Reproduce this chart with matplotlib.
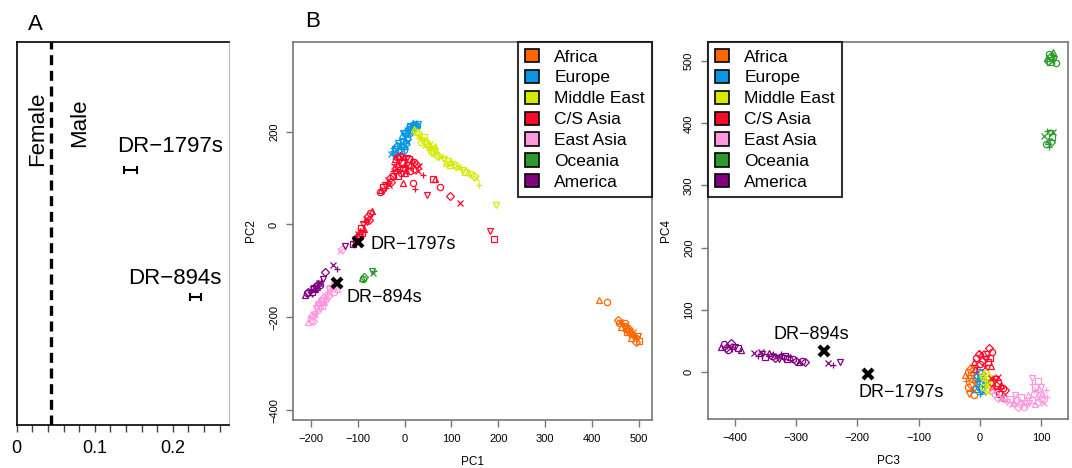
import matplotlib.pyplot as plt
from matplotlib.patches import Patch

plt.rcParams['font.family'] = ['Liberation Sans', 'DejaVu Sans']

# ---- panel A: sex determination ----
samples = ['DR\u22121797s', 'DR\u2212894s']
ratio = [0.146, 0.229]
ratio_err = [0.008, 0.007]
sample_y = [2, 1]
threshold = 0.044

# ---- panel B: PCA ----
regions = ['Africa', 'Europe', 'Middle East', 'C/S Asia', 'East Asia', 'Oceania', 'America']
colors = ['#FF6600', '#0A96E0', '#D6EA00', '#FF0A2A', '#FF99DD', '#2E9A2E', '#800080']

pc12 = {
    'Africa': [(416, -163), (431, -168), (455, -205), (460, -210), (465, -214), (468, -218),
               (472, -222), (475, -226), (478, -230), (482, -234), (485, -238), (490, -242),
               (495, -246), (500, -250), (462, -220), (470, -212), (480, -225), (488, -232),
               (492, -238), (498, -240), (474, -232), (484, -245), (458, -212), (494, -252)],
    'Europe': [(-5, 192), (0, 196), (3, 200), (6, 203), (8, 198), (10, 206), (12, 210), (15, 213),
               (18, 215), (20, 212), (22, 217), (25, 218), (28, 216), (14, 204), (5, 194), (17, 208),
               (24, 211), (9, 201), (1, 190), (-3, 197), (11, 213), (19, 219), (27, 213), (13, 199),
               (-28, 152), (-25, 158), (-22, 150), (-20, 162), (-18, 155), (-15, 168), (-12, 160),
               (-10, 172), (-8, 165), (-5, 178), (-3, 170), (0, 182), (3, 175), (5, 184), (-20, 148),
               (-25, 165), (-14, 175), (-7, 158), (2, 168), (-1, 160), (-17, 170), (6, 178)],
    'Middle East': [(20, 205), (24, 200), (28, 196), (30, 190), (34, 186), (38, 182), (42, 188),
                    (45, 180), (48, 176), (50, 170), (54, 174), (56, 166), (60, 162), (63, 158),
                    (66, 168), (68, 152), (72, 148), (75, 145), (80, 146), (85, 140), (92, 136),
                    (98, 134), (105, 130), (110, 126), (115, 124), (120, 120), (125, 118), (130, 114),
                    (136, 112), (142, 108), (148, 104), (153, 100), (158, 84), (195, 43), (96, 128),
                    (88, 132), (35, 178), (58, 156), (44, 172), (52, 160)],
    'C/S Asia': [(-20, 140), (-15, 145), (-10, 148), (-5, 146), (0, 142), (5, 144), (10, 140),
                 (15, 138), (20, 135), (25, 130), (30, 125), (-18, 130), (-12, 135), (-6, 132),
                 (2, 130), (8, 128), (14, 126), (-22, 125), (-16, 120), (-10, 118), (-4, 122),
                 (4, 118), (12, 115), (20, 120), (28, 115), (-25, 115), (-20, 110), (-14, 105),
                 (0, 110), (-8, 110), (-30, 100), (-35, 95), (-38, 90), (-42, 85), (-45, 80),
                 (-50, 75), (-52, 70), (-28, 92), (-33, 85), (-40, 78), (-46, 72), (-25, 105),
                 (-70, 30), (-74, 25), (-78, 18), (-82, 12), (-85, 5), (-88, 0), (-92, -8),
                 (-95, -15), (-98, -22), (-102, -28), (-105, -32), (-110, -35), (-80, 5), (-90, -18),
                 (-86, -10), (-96, -28), (-76, 10), (-100, -20), (23, 77), (49, 64), (60, 97),
                 (66, 99), (75, 80), (96, 62), (118, 47), (40, 107), (182, -13), (191, -32),
                 (-3, 90), (19, 90)],
    'East Asia': [(-205, -210), (-200, -205), (-198, -198), (-195, -192), (-192, -186), (-188, -180),
                  (-185, -175), (-182, -168), (-178, -162), (-175, -158), (-170, -152), (-166, -146),
                  (-162, -140), (-158, -136), (-155, -132), (-150, -128), (-196, -208), (-190, -196),
                  (-186, -190), (-180, -182), (-176, -175), (-172, -168), (-168, -160), (-164, -155),
                  (-160, -148), (-202, -200), (-184, -172), (-174, -165), (-145, -140), (-150, -145),
                  (-133, -52), (-138, -58)],
    'Oceania': [(-91, -116), (-88, -118), (-86, -114), (-68, -104), (-65, -101), (-70, -100)],
    'America': [(-212, -152), (-208, -148), (-205, -145), (-202, -150), (-200, -142), (-196, -140),
                (-193, -136), (-190, -138), (-188, -132), (-185, -128), (-182, -125), (-178, -122),
                (-175, -118), (-198, -146), (-186, -135), (-180, -130), (-170, -103), (-153, -88),
                (-144, -95), (-127, -47), (-110, -43)],
}

pc34 = {
    'Africa': [(-24, -5), (-20, 0), (-16, 5), (-12, 8), (-22, -15), (-18, -10), (-14, -5), (-10, -12),
               (-20, -25), (-15, -22), (-8, -20), (-12, -30), (-18, -35), (-6, -8), (-4, -28), (-10, -38)],
    'Europe': [(-6, -5), (-2, 0), (2, -2), (6, -6), (-4, -15), (0, -12), (4, -18), (8, -14), (-2, -25),
               (2, -28), (6, -32), (0, -35), (10, -22), (-6, -28)],
    'Middle East': [(6, -4), (10, -2), (14, -6), (18, -10), (8, -14), (12, -18), (16, -20), (20, -16),
                    (6, -24), (10, -28), (14, -32), (18, -26), (4, -10)],
    'C/S Asia': [(-10, 15), (-6, 22), (-2, 28), (2, 30), (6, 26), (10, 20), (14, 15), (18, 10), (0, 12),
                 (4, 18), (8, 8), (-4, 8), (12, 28), (16, 22), (-8, 5), (20, 32), (15, 38),
                 (18, -10), (22, -14), (26, -12), (30, -18), (34, -22), (38, -26), (42, -30), (20, -24),
                 (24, -28), (28, -32), (32, -36), (36, -40), (40, -42), (26, -22), (30, -8)],
    'East Asia': [(20, -30), (25, -36), (30, -42), (35, -40), (40, -46), (45, -48), (50, -44), (55, -50),
                  (60, -46), (65, -52), (70, -48), (75, -54), (80, -50), (85, -46), (90, -52), (95, -48),
                  (100, -44), (105, -50), (110, -40), (58, -38), (68, -40), (78, -38), (88, -36),
                  (98, -38), (92, -30), (86, -20), (85, -10), (90, -25), (102, -34), (72, -56),
                  (62, -56), (52, -52), (108, -30), (100, -24), (95, -15)],
    'Oceania': [(110, 505), (113, 512), (116, 508), (118, 500), (120, 510), (122, 504), (115, 498),
                (119, 515), (124, 497), (112, 501), (105, 380), (110, 388), (114, 384), (118, 378),
                (112, 372), (108, 366), (116, 370), (120, 386), (113, 362)],
    'America': [(-423, 40), (-418, 44), (-414, 38), (-410, 42), (-405, 36), (-400, 40), (-395, 38),
                (-390, 35), (-412, 35), (-407, 46), (-368, 30), (-362, 26), (-355, 28), (-350, 24),
                (-345, 30), (-340, 26), (-335, 22), (-330, 25), (-325, 28), (-320, 22), (-315, 20),
                (-310, 24), (-305, 20), (-300, 18), (-358, 32), (-338, 28), (-328, 20), (-318, 26),
                (-295, 16), (-290, 18), (-285, 15), (-248, 14), (-240, 11), (-228, 15)],
}

ancient_pc12 = [(-99, -37), (-144, -127)]
ancient_pc34 = [(-182, -3), (-254, 33)]

markers = ['^', 'o', 'D', 'x', '+', 'v', 's']

fig = plt.figure(figsize=(10.72, 4.68), dpi=100)

# ---------------- panel A ----------------
axA = fig.add_axes([0.0156, 0.092, 0.198, 0.818])
axA.errorbar(ratio, sample_y, xerr=ratio_err, fmt='none', ecolor='black',
             elinewidth=1.5, capsize=3, capthick=1.5)
axA.axvline(threshold, color='black', lw=2.4, dashes=(3, 1.7))
axA.text(0.1286, 2.18, samples[0], fontsize=16, va='center', ha='left')
axA.text(0.1428, 1.15, samples[1], fontsize=16, va='center', ha='left')
axA.text(0.027, 2.32, 'Female', rotation=90, fontsize=16, ha='center', va='center')
axA.text(0.081, 2.37, 'Male', rotation=90, fontsize=16, ha='center', va='center')
axA.set_xlim(0, 0.272)
axA.set_ylim(0, 3)
axA.set_yticks([])
axA.set_xticks([i * 0.02 for i in range(14)], minor=True)
axA.set_xticks([0, 0.1, 0.2])
axA.set_xticklabels(['0', '0.1', '0.2'], fontsize=13)
axA.tick_params(axis='x', which='both', length=5, width=1, color='#444444', pad=6)
axA.spines['right'].set_color('#bbbbbb')
axA.spines['right'].set_linewidth(0.8)
for s in ['left', 'top', 'bottom']:
    axA.spines[s].set_linewidth(1.2)


def pca_panel(ax, data, ancient):
    for reg, col in zip(regions, colors):
        pts = data[reg]
        for k, m in enumerate(markers):
            sub = pts[k::len(markers)]
            if not sub:
                continue
            ax.plot([p[0] for p in sub], [p[1] for p in sub], ls='none', marker=m,
                    ms=4.5, mew=0.9, mfc='none', mec=col)
    ax.plot([p[0] for p in ancient], [p[1] for p in ancient], ls='none', marker='x',
            ms=7, mew=3, color='black')
    for s in ax.spines.values():
        s.set_color('#777777')
        s.set_linewidth(1.2)
    ax.tick_params(length=5, width=1, color='#777777', labelsize=8, pad=5)
    ax.tick_params(axis='y', labelrotation=90)


def add_legend(ax, loc):
    handles = [Patch(facecolor=c, edgecolor='black', lw=1.2) for c in colors]
    leg = ax.legend(handles, regions, loc=loc, borderaxespad=0, fontsize=12.5,
                    frameon=True, fancybox=False, handlelength=0.8, handleheight=0.8,
                    labelspacing=0.3, handletextpad=0.9, borderpad=0.4)
    leg.get_frame().set_edgecolor('black')
    leg.get_frame().set_linewidth(1.5)


# ---------------- panel B, PC1/PC2 ----------------
axB1 = fig.add_axes([0.2733, 0.1026, 0.3349, 0.8077])
pca_panel(axB1, pc12, ancient_pc12)
axB1.set_xlim(-238, 528)
axB1.set_ylim(-421, 393)
axB1.set_xticks(range(-200, 501, 100))
axB1.set_yticks([-400, -200, 0, 200])
for t in axB1.get_yticklabels():
    t.set_va('center')
axB1.set_xlabel('PC1', fontsize=8.5, labelpad=9)
axB1.set_ylabel('PC2', fontsize=8.5, labelpad=9)
axB1.text(-73, -43, samples[0], fontsize=13, va='center', ha='left')
axB1.text(-123, -157, samples[1], fontsize=13, va='center', ha='left')
add_legend(axB1, 'upper right')

# ---------------- panel B, PC3/PC4 ----------------
axB2 = fig.add_axes([0.6604, 0.1047, 0.3358, 0.8056])
pca_panel(axB2, pc34, ancient_pc34)
axB2.set_xlim(-444, 144)
axB2.set_ylim(-76, 531)
axB2.set_xticks(range(-400, 101, 100))
axB2.set_yticks(range(0, 501, 100))
for t in axB2.get_yticklabels():
    t.set_va('center')
axB2.set_xlabel('PC3', fontsize=8.5, labelpad=9)
axB2.set_ylabel('PC4', fontsize=8.5, labelpad=9)
axB2.text(-275, 60, samples[1], fontsize=13, va='center', ha='center')
axB2.text(-128, -34, samples[0], fontsize=13, va='center', ha='center')
add_legend(axB2, 'upper left')

fig.text(0.033, 0.947, 'A', fontsize=16, ha='center', va='center')
fig.text(0.292, 0.955, 'B', fontsize=16, ha='center', va='center')

fig.savefig('out.png', dpi=100)
